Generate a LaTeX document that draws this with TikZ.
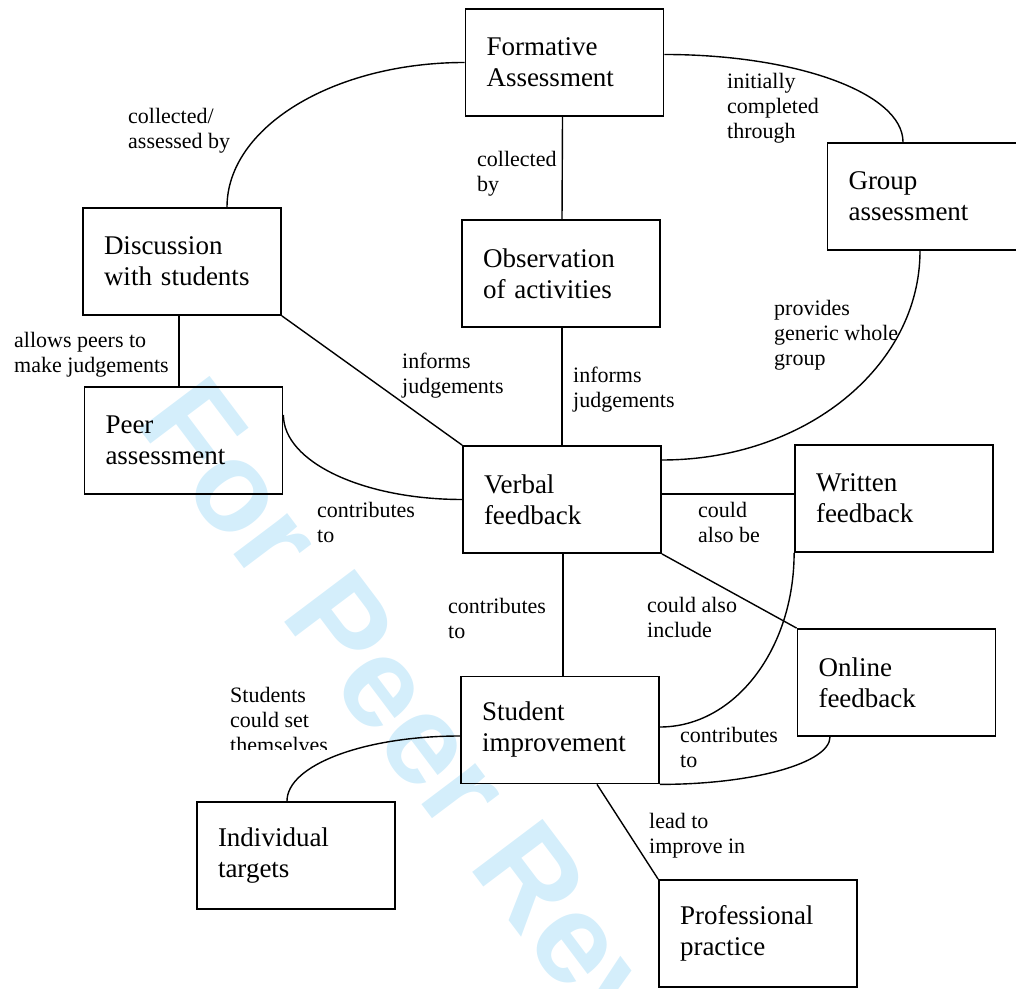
\documentclass[tikz,border=0pt]{standalone}
\usepackage{fontspec}
\setmainfont{Liberation Serif}
\newfontfamily\wmfont{Liberation Sans}
\usepackage{tikz}
\definecolor{wmblue}{RGB}{212,238,251}

\begin{document}
\begin{tikzpicture}[x=1pt, y=1pt,
    box/.style={draw, line width=1.8pt, minimum width=198pt, minimum height=107pt,
      text width=156pt, inner xsep=21pt, align=left, font={\fontsize{27}{31}\selectfont}},
    lbl/.style={anchor=north west, inner sep=0pt, align=left, font={\fontsize{22}{25}\selectfont}},
    link/.style={line width=1.4pt}]
    \useasboundingbox (0,0) rectangle (1016,988);
    \begin{scope}
      \clip (0,0) rectangle (1016,988);
      \node[rotate=-53, anchor=base west, inner sep=0pt, text=wmblue,
        font={\wmfont\bfseries\fontsize{128}{150}\selectfont}] (wm) at (134,565.5) {For Peer Review};
      \node[box] (group) at (926.5,791.5) {Group\\assessment};
    \end{scope}
    \node[box] (form) at (564.5,925.5) {Formative\\Assessment};
    \node[box] (disc) at (182,726.5) {Discussion\\with students};
    \node[box] (obs) at (561,714.5) {Observation\\of activities};
    \node[box] (peer) at (183.5,547.5) {Peer\\assessment};
    \node[box] (verbal) at (562,488.5) {Verbal\\feedback};
    \node[box] (written) at (894,489.5) {Written\\feedback};
    \node[box] (online) at (896.5,305.5) {Online\\feedback};
    \node[box] (student) at (560,258) {Student\\improvement};
    \node[box] (indiv) at (296,132.5) {Individual\\targets};
    \node[box] (prof) at (758,54.5) {Professional\\practice};
    \draw[link] (form.west) to[out=180, in=90, out distance=131pt, in distance=80pt] ([xshift=45pt]disc.north);
    \draw[link] ([xshift=-2pt]form.south) -- ([xshift=1pt]obs.north);
    \draw[link] ([yshift=8pt]form.east) to[out=0, in=90, out distance=132pt, in distance=49pt] ([xshift=-23.5pt]group.north);
    \draw[link] ([xshift=-3pt]disc.south) -- ([xshift=-4.5pt]peer.north);
    \draw[link] (disc.south east) -- (verbal.north west);
    \draw[link] ([xshift=1pt]obs.south) -- (verbal.north);
    \draw[link] ([xshift=-6.5pt]group.south) to[out=270, in=0, out distance=116pt, in distance=143pt] ([yshift=39.5pt]verbal.east);
    \draw[link] ([yshift=25.5pt]peer.east) to[out=270, in=180, out distance=47pt, in distance=99pt] (verbal.west);
    \draw[link] ([yshift=5.5pt]verbal.east) -- ([yshift=4.5pt]written.west);
    \draw[link] ([xshift=1pt]verbal.south) -- ([xshift=3pt]student.north);
    \draw[link] (verbal.south east) -- (online.north west);
    \draw[link] (written.south west) to[out=270, in=0, out distance=96pt, in distance=75pt] ([yshift=3pt]student.east);
    \draw[link] ([xshift=-66.5pt]online.south) to[out=270, in=0, out distance=26pt, in distance=94pt] (student.south east);
    \draw[link] ([yshift=-6pt]student.west) to[out=180, in=90, out distance=96pt, in distance=36pt] ([xshift=-9pt]indiv.north);
    \draw[link] ([xshift=37pt]student.south) -- (prof.north west);
    \node[lbl] (lcoll) at (128,880) {collected/\\assessed by};
    \node[lbl] (lcollby) at (477,837) {collected\\by};
    \node[lbl] (linit) at (727,915) {initially\\completed\\through};
    \node[lbl] (lallow) at (14,656) {allows peers to\\make judgements};
    \node[lbl] (linfdisc) at (402,635) {informs\\judgements};
    \node[lbl] (linfobs) at (573,621) {informs\\judgements};
    \node[lbl] (lprov) at (774,688) {provides\\generic whole\\group};
    \node[lbl] (lcontpeer) at (317,486) {contributes\\to};
    \node[lbl] (lcould) at (698,486) {could\\also be};
    \node[lbl] (lcontverb) at (448,390) {contributes\\to};
    \node[lbl] (lincl) at (647,391) {could also\\include};
    \begin{scope}
      \clip (200,239) rectangle (420,320);
      \node[lbl] (lstud) at (230,301) {Students\\could set\\themselves};
    \end{scope}
    \node[lbl] (lcontonl) at (680,261) {contributes\\to};
    \node[lbl] (llead) at (649,175) {lead to\\improve in};
\end{tikzpicture}
\end{document}
